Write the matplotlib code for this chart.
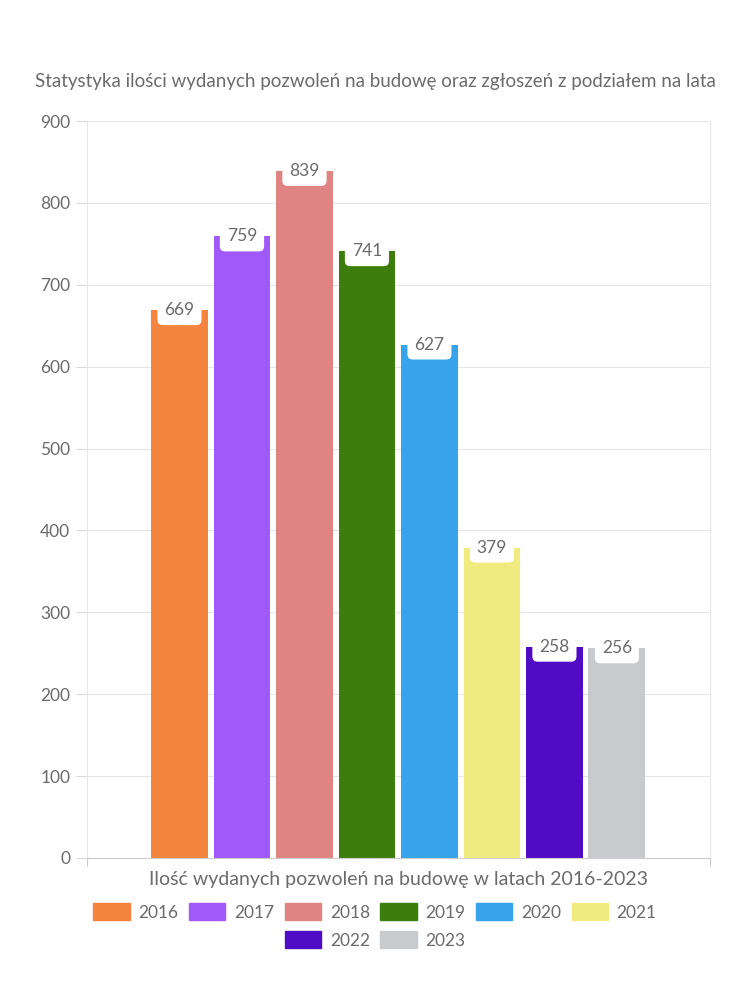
import matplotlib.pyplot as plt
from matplotlib.patches import Patch

years = ["2016", "2017", "2018", "2019", "2020", "2021", "2022", "2023"]
values = [669, 759, 839, 741, 627, 379, 258, 256]
colors = ["#F5843F", "#A05AFC", "#E08383", "#3D7D0B", "#37A3EA", "#F0EB7E", "#520BC4", "#C9CACE"]

plt.rcParams['font.family'] = ['Lato', 'DejaVu Sans']
txt = "#6b6b6b"

fig = plt.figure(figsize=(7.5, 10), dpi=100)
ax = fig.add_axes([0.116, 0.142, 0.8307, 0.737])

pos = list(range(len(years)))
bars = ax.bar(pos, values, width=0.91, color=colors, zorder=2)

for x, v in zip(pos, values):
	ax.annotate(str(v), (x, v), xytext=(0, 0), textcoords="offset points",
		ha="center", va="center", fontsize=12.5, color=txt, zorder=3,
		bbox=dict(boxstyle="round,pad=0.4,rounding_size=0.3", fc="white", ec="none"))

ax.set_xlim(-1.48, 8.49)
ax.set_ylim(0, 900)
ax.set_yticks(range(0, 901, 100))
ax.set_xticks([-1.48, 8.49])
ax.set_xticklabels([])
ax.tick_params(axis="x", length=6, color="#cccccc")
ax.tick_params(axis="y", length=8, color="#d9d9d9", labelsize=12.5, labelcolor=txt, pad=4)
ax.grid(axis="y", color="#e6e6e6", linewidth=0.8, zorder=0)
for s in ["left", "right", "top"]:
	ax.spines[s].set_color("#e6e6e6")
ax.spines["top"].set_visible(False)
ax.spines["bottom"].set_color("#cccccc")

fig.text(0.5, 0.919, "Statystyka ilości wydanych pozwoleń na budowę oraz zgłoszeń z podziałem na lata",
	ha="center", va="center", fontsize=13.5, color=txt)
fig.text(0.531, 0.120, "Ilość wydanych pozwoleń na budowę w latach 2016-2023",
	ha="center", va="center", fontsize=14, color=txt)

handles = [Patch(color=c, label=y) for c, y in zip(colors, years)]
opts = dict(frameon=False, fontsize=12.5, handlelength=2.1, handleheight=1.1, handletextpad=0.5,
	columnspacing=0.6, labelcolor=txt)
fig.legend(handles=handles[:6], loc="center", bbox_to_anchor=(0.5, 0.088), ncol=6, **opts)
fig.legend(handles=handles[6:], loc="center", bbox_to_anchor=(0.5, 0.060), ncol=2, **opts)

plt.savefig("out.png", dpi=100)
